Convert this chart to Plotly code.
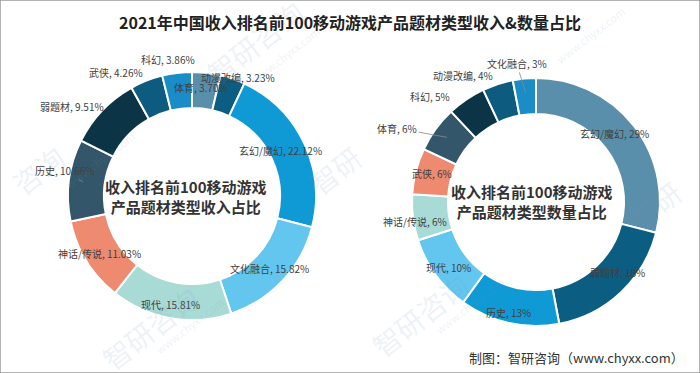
import math
import plotly.graph_objects as go

# ---------------- data ----------------
rev_labels = ["体育", "动漫改编", "玄幻/魔幻", "文化融合", "现代", "神话/传说", "历史", "弱题材", "武侠", "科幻"]
rev_values = [3.70, 3.23, 22.12, 15.82, 15.81, 11.03, 10.66, 9.51, 4.26, 3.86]

cnt_labels = ["玄幻/魔幻", "弱题材", "历史", "现代", "神话/传说", "武侠", "体育", "科幻", "动漫改编", "文化融合"]
cnt_values = [29, 18, 13, 10, 6, 6, 6, 5, 4, 3]

title_text = "2021年中国收入排名前100移动游戏产品题材类型收入&数量占比"
rev_center = "收入排名前100移动游戏<br>产品题材类型收入占比"
cnt_center = "收入排名前100移动游戏<br>产品题材类型数量占比"
source_text = "制图：智研咨询（www.chyxx.com）"

# ---------------- style ----------------
W, H = 700, 373
palette = ["#5a8fab", "#0c5d82", "#0f9ad6", "#62c6ef", "#a8dbd5",
           "#ee8a70", "#33566a", "#0b3447", "#0d5c80", "#1a8cc6"]
FONT = "Noto Sans CJK SC"

# donut geometry (pixels): center x, center y, outer radius
L_GEO = (192, 196, 124)
R_GEO = (536, 202, 124)
HOLE = 0.71

# label placement tweaks: radius in px, angle nudge in degrees, leader flag
rev_lab_r = [109, 127, 100, 106, 111, 109, 130, 150, 145, 139]
rev_lab_da = [-2, 2, -2, 0, 1, 0, 4, -7, -10, -3]
rev_leader = [0, 0, 0, 0, 0, 0, 1, 0, 0, 0]
cnt_lab_r = [104, 108, 114, 109, 123, 108, 157, 150, 146, 140]
cnt_lab_da = [-3.5, -6, 1.4, -1, -2, 1, -8, -11, -12, -2.6]
cnt_leader = [0, 0, 0, 0, 0, 0, 1, 0, 0, 1]


def domain(geo):
    cx, cy, r = geo
    return dict(x=[(cx - r) / W, (cx + r) / W], y=[1 - (cy + r) / H, 1 - (cy - r) / H])


fig = go.Figure()
for labels, values, geo in [(rev_labels, rev_values, L_GEO), (cnt_labels, cnt_values, R_GEO)]:
    fig.add_trace(go.Pie(
        labels=labels, values=values, sort=False, direction="clockwise", rotation=0,
        hole=HOLE, textinfo="none", domain=domain(geo),
        marker=dict(colors=palette, line=dict(color="white", width=2)),
        showlegend=False,
    ))

annotations = []


def txt(x, y, text, size, color="#404040", **kw):
    d = dict(x=x / W, y=1 - y / H, xref="paper", yref="paper", text=text, showarrow=False,
             xanchor="center", yanchor="middle", font=dict(family=FONT, size=size, color=color))
    d.update(kw)
    annotations.append(d)


def add_labels(labels, values, geo, rr, da, leader, fmt):
    cx, cy, R = geo
    total = sum(values)
    cum = 0
    for i, (lab, v) in enumerate(zip(labels, values)):
        mid = (cum + v / 2) / total * 360
        cum += v
        th = math.radians(mid + da[i])
        lx = cx + rr[i] * math.sin(th)
        ly = cy - rr[i] * math.cos(th)
        text = f"{lab}, {fmt(v)}"
        if leader[i]:
            thm = math.radians(mid)
            rm = R * (HOLE + 1) / 2 + 4
            px = cx + rm * math.sin(thm)
            py = cy - rm * math.cos(thm)
            annotations.append(dict(
                x=px / W, y=1 - py / H, xref="paper", yref="paper",
                text=text, showarrow=True, arrowhead=0, arrowwidth=0.8,
                arrowcolor="#8a8a8a", ax=lx - px, ay=ly - py, standoff=0,
                xanchor="center", yanchor="middle",
                font=dict(family=FONT, size=10, color="#404040")))
        else:
            txt(lx, ly, text, 10)


add_labels(rev_labels, rev_values, L_GEO, rev_lab_r, rev_lab_da, rev_leader, lambda v: f"{v:.2f}%")
add_labels(cnt_labels, cnt_values, R_GEO, cnt_lab_r, cnt_lab_da, cnt_leader, lambda v: f"{v:g}%")

# faint watermarks
wm_color = "rgba(120,150,185,0.14)"
for (x, y, t) in [(255, 42, "智研咨询"), (150, 328, "智研咨询"), (420, 315, "智研咨询"),
                  (335, 170, "智研"), (38, 170, "咨询"), (655, 205, "智研")]:
    txt(x, y, t, 28, wm_color, textangle=-38)
for (x, y) in [(285, 55), (190, 325), (470, 305), (590, 35), (100, 160)]:
    txt(x, y, "www.chyxx.com", 11, wm_color, textangle=-38)

# centre texts
txt(186, 196, f"<b>{rev_center}</b>", 15, "#333333", align="center")
txt(532, 201, f"<b>{cnt_center}</b>", 15, "#333333", align="center")

# title and source
txt(350, 22, f"<b>{title_text}</b>", 16, "#222222")
txt(686, 357, source_text, 13, "#333333", xanchor="right")

fig.update_layout(
    width=W, height=H, margin=dict(l=0, r=0, t=0, b=0),
    paper_bgcolor="white", plot_bgcolor="white",
    annotations=annotations,
    shapes=[dict(type="rect", xref="paper", yref="paper", x0=0, y0=0, x1=1, y1=1,
                 line=dict(color="#9a9a9a", width=1.5))],
)

fig.write_html("out.html", config={"displayModeBar": False},
               post_script="document.body.style.margin='0';document.body.style.overflow='hidden';")
